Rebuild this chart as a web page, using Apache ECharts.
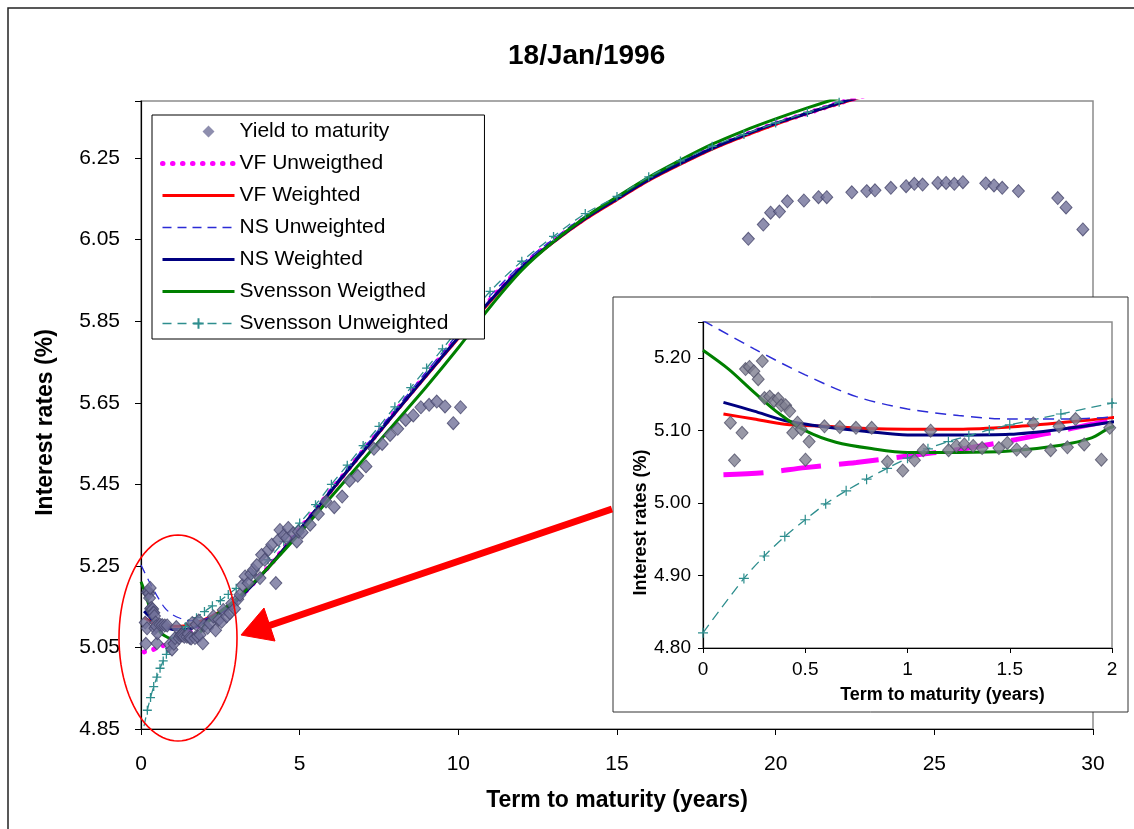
<!DOCTYPE html>
<html><head><meta charset="utf-8">
<script src="https://cdn.jsdelivr.net/npm/echarts@6/dist/echarts.min.js"></script>
<style>html,body{margin:0;padding:0;background:#fff;}#c{width:1134px;height:829px;}</style>
</head><body><div id="c"></div>
<script>
// ---------- DATA ----------
const chartTitle = '18/Jan/1996';
const xTitle = 'Term to maturity (years)';
const yTitle = 'Interest rates (%)';

// Yield to maturity observations
const termYTM = [0.134,0.154,0.191,0.208,0.227,0.249,0.270,0.290,0.301,0.326,0.347,0.368,0.383,0.404,0.424,0.439,0.462,0.480,0.501,0.519,0.594,0.669,0.748,0.825,0.902,0.977,1.034,1.077,1.113,1.201,1.239,1.278,1.321,1.365,1.447,1.488,1.534,1.578,1.615,1.700,1.741,1.782,1.822,1.864,1.948,1.989,
  2.10,2.17,2.28,2.35,2.45,2.54,2.59,2.70,2.80,2.86,2.95,3.05,3.12,3.20,3.28,3.38,3.46,3.54,3.65,3.75,3.80,3.90,4.01,4.12,4.25,4.33,4.38,4.50,4.59,4.64,4.80,4.91,4.96,5.08,5.33,5.59,5.83,6.09,6.34,6.57,6.83,7.09,7.34,7.60,7.85,8.09,8.34,8.58,8.82,9.08,9.32,9.58,9.84,10.07,
  19.14,19.61,19.84,20.12,20.37,20.89,21.35,21.61,22.40,22.87,23.13,23.63,24.11,24.37,24.63,25.11,25.37,25.63,25.90,26.62,26.88,27.14,27.65,28.89,29.15,29.68];
const rateYTM = [5.111,5.059,5.097,5.185,5.188,5.182,5.171,5.196,5.145,5.147,5.141,5.144,5.135,5.135,5.127,5.097,5.111,5.102,5.060,5.085,5.106,5.105,5.104,5.104,5.057,5.045,5.059,5.073,5.100,5.073,5.079,5.081,5.079,5.076,5.076,5.083,5.074,5.072,5.110,5.073,5.106,5.077,5.116,5.081,5.060,5.104,
  5.098,5.109,5.126,5.092,5.118,5.113,5.142,5.126,5.134,5.158,5.145,5.168,5.179,5.203,5.224,5.208,5.230,5.240,5.252,5.220,5.277,5.265,5.289,5.302,5.208,5.314,5.338,5.325,5.318,5.343,5.330,5.310,5.334,5.332,5.351,5.377,5.408,5.394,5.420,5.459,5.471,5.494,5.537,5.549,5.571,5.586,5.608,5.619,5.639,5.645,5.653,5.641,5.600,5.639,
  6.052,6.087,6.116,6.119,6.144,6.146,6.154,6.154,6.166,6.169,6.171,6.177,6.181,6.187,6.185,6.189,6.189,6.187,6.191,6.188,6.183,6.177,6.169,6.152,6.129,6.075];

// VF Unweigthed
const termVFU = [0.1,0.3,0.5,0.75,1,1.25,1.5,1.75,2,2.5,3,4,5,6,7,8,9,10,11,12,13,14,15,16,17,18,19,20,21,22,23];
const rateVFU = [5.039,5.042,5.049,5.056,5.065,5.074,5.086,5.100,5.114,5.137,5.165,5.246,5.340,5.436,5.532,5.627,5.720,5.812,5.902,5.984,6.047,6.103,6.151,6.198,6.238,6.275,6.306,6.335,6.360,6.385,6.407];
// VF Weighted
const termVFW = [0.1,0.25,0.4,0.6,0.8,1,1.25,1.5,1.75,2,2.5,3,4,5,6,7,8,9,10,11,12,13,14,15,16,17,18,19,20,21,22,23];
const rateVFW = [5.123,5.116,5.109,5.106,5.103,5.102,5.102,5.105,5.111,5.118,5.138,5.165,5.245,5.338,5.434,5.530,5.624,5.717,5.808,5.898,5.980,6.044,6.100,6.148,6.195,6.235,6.272,6.304,6.333,6.360,6.384,6.406];
// NS Unweighted
const termNSU = [0,0.25,0.5,0.75,1,1.25,1.5,1.75,2,2.5,3,4,5,6,7,8,9,10,11,12,13,14,15,16,17,18,19,20,21,22,23];
const rateNSU = [5.252,5.213,5.177,5.147,5.130,5.121,5.116,5.116,5.119,5.135,5.162,5.245,5.340,5.440,5.537,5.632,5.727,5.820,5.912,5.990,6.052,6.108,6.153,6.200,6.240,6.276,6.306,6.334,6.360,6.385,6.408];
// NS Weighted
const termNSW = [0.1,0.25,0.4,0.6,0.8,1,1.25,1.5,1.75,2,2.5,3,4,5,6,7,8,9,10,11,12,13,14,15,16,17,18,19,20,21,22,23];
const rateNSW = [5.139,5.127,5.114,5.105,5.099,5.094,5.094,5.095,5.102,5.112,5.135,5.163,5.245,5.338,5.435,5.530,5.625,5.718,5.810,5.900,5.982,6.045,6.102,6.150,6.197,6.237,6.274,6.306,6.335,6.360,6.385,6.407];
// Svensson Weigthed
const termSVW = [0,0.125,0.25,0.375,0.5,0.65,0.83,1,1.25,1.5,1.75,1.9,2,2.5,3,4,5,6,7,8,9,10,11,12,13,14,15,16,17,18,19,20,21,22,23];
const rateSVW = [5.211,5.185,5.153,5.123,5.100,5.084,5.075,5.070,5.070,5.072,5.080,5.090,5.105,5.138,5.168,5.245,5.330,5.420,5.510,5.600,5.690,5.785,5.885,5.975,6.045,6.105,6.155,6.203,6.245,6.284,6.317,6.346,6.373,6.398,6.420];
// Svensson Unweighted
const termSVU = [0,0.2,0.3,0.4,0.5,0.6,0.7,0.8,0.9,1.0,1.1,1.2,1.3,1.4,1.5,1.75,2,2.25,2.5,2.75,3,3.5,4,4.5,5,5.5,6,6.5,7,7.5,8,8.5,9,9.5,10,11,12,13,14,15,16,17,18,19,20,21,22,23];
const rateSVU = [4.821,4.896,4.927,4.954,4.977,4.999,5.017,5.033,5.048,5.062,5.075,5.085,5.093,5.101,5.108,5.123,5.138,5.152,5.165,5.180,5.195,5.228,5.265,5.310,5.355,5.400,5.450,5.497,5.545,5.592,5.640,5.687,5.735,5.782,5.830,5.923,5.997,6.058,6.114,6.156,6.204,6.243,6.279,6.308,6.336,6.362,6.387,6.410];

const legendNames = ['Yield to maturity','VF Unweigthed','VF Weighted','NS Unweighted','NS Weighted','Svensson Weigthed','Svensson Unweighted'];

// ---------- CHART ----------
const FONT = '"Liberation Sans", Arial, Helvetica, sans-serif';
function pairs(xs, ys){ return xs.map((x,i)=>[x, ys[i]]); }
const PLUS = 'path://M5,0L5,10M0,5L10,5';
// legend diamond placed inside a wide icon box (tiny corner specks fix the box size)
const LEGEND_DIAMOND = 'path://M0,0L0.01,0L0,0.01Z M72,13L71.99,13L72,12.99Z M46,0.5L52,6.5L46,12.5L40,6.5Z';

const curves = [
  {name:'VF Unweigthed', d:pairs(termVFU,rateVFU), color:'#FF00FF',
    main:{width:5,type:[0.5,9.5],cap:'round'}, inset:{width:5,type:[40,18]}},
  {name:'VF Weighted', d:pairs(termVFW,rateVFW), color:'#FF0000',
    main:{width:3,type:'solid'}, inset:{width:3,type:'solid'}},
  {name:'NS Unweighted', d:pairs(termNSU,rateNSU), color:'#2B2BD6',
    main:{width:1.3,type:[9,6]}, inset:{width:1.5,type:[11,7]}},
  {name:'NS Weighted', d:pairs(termNSW,rateNSW), color:'#000080',
    main:{width:3,type:'solid'}, inset:{width:3,type:'solid'}},
  {name:'Svensson Weigthed', d:pairs(termSVW,rateSVW), color:'#008000',
    main:{width:3,type:'solid'}, inset:{width:3,type:'solid'}},
  {name:'Svensson Unweighted', d:pairs(termSVU,rateSVU), color:'#2E8E8E',
    main:{width:1.3,type:[9,6]}, inset:{width:1.3,type:[10,6]}, plus:true}
];

const ytm = pairs(termYTM, rateYTM);
const diamondStyle = {color:'#72729A', borderColor:'#46466C', borderWidth:1};

const series = [];
series.push({name:'Yield to maturity', type:'scatter', xAxisIndex:0, yAxisIndex:0, data:ytm,
  symbol:'diamond', symbolSize:[12,13], itemStyle:diamondStyle, z:4, clip:true});
curves.forEach(c=>{
  series.push({name:c.name, type:'line', xAxisIndex:0, yAxisIndex:0, data:c.d, smooth:0.3,
    color:c.color, lineStyle:Object.assign({color:c.color}, c.main),
    symbol: c.plus ? PLUS : 'none', showSymbol: !!c.plus, symbolSize:9,
    itemStyle:{color:c.color, borderColor:c.color, borderWidth:1.3}, z:3, clip:true});
});
curves.forEach(c=>{
  series.push({name:c.name, type:'line', xAxisIndex:1, yAxisIndex:1, data:c.d, smooth:0.3,
    color:c.color, lineStyle:Object.assign({color:c.color}, c.inset),
    symbol: c.plus ? PLUS : 'none', showSymbol: !!c.plus, symbolSize:10,
    itemStyle:{color:c.color, borderColor:c.color, borderWidth:1.2}, z:22, clip:true});
});
series.push({name:'Yield to maturity', type:'scatter', xAxisIndex:1, yAxisIndex:1, data:ytm,
  symbol:'diamond', symbolSize:[12,13], itemStyle:{color:'#7E7E90', borderColor:'#52526A', borderWidth:1}, z:23, clip:true});

// legend entries: hide the marker on plain lines, keep the plus on Svensson Unweighted
const legendData = legendNames.map(n=>{
  if (n === 'Yield to maturity') return {name:n, icon:LEGEND_DIAMOND, itemStyle:{color:'#72729A', borderWidth:0}};
  const c = curves.find(k=>k.name===n);
  const item = {name:n, lineStyle:Object.assign({color:c.color}, c.main)};
  if (!c.plus) item.itemStyle = {opacity:0};
  return item;
});

// ellipse annotation points
const ell = [];
for (let i=0;i<96;i++){ const a = i/96*Math.PI*2; ell.push([178+59*Math.cos(a), 638+103*Math.sin(a)]); }

const option = {
  animation:false,
  backgroundColor:'#ffffff',
  textStyle:{fontFamily:FONT},
  title:{text:chartTitle, left:503, top:37, textStyle:{fontFamily:FONT, fontSize:28, fontWeight:'bold', color:'#000'}},
  legend:{
    data:legendData, left:152, top:115, orient:'vertical',
    backgroundColor:'#fff', borderColor:'#000', borderWidth:1,
    padding:[6,36,5,8], itemGap:11, itemWidth:72, itemHeight:13,
    textStyle:{fontFamily:FONT, fontSize:21, color:'#000', lineHeight:21},
    z:30
  },
  grid:[
    {left:141, top:101, right:41, bottom:100, show:true, borderColor:'#8C8C8C', borderWidth:1.5, backgroundColor:'transparent'},
    {left:703, top:322, right:22, bottom:181, show:true, borderColor:'#8C8C8C', borderWidth:1.5, backgroundColor:'transparent', z:21}
  ],
  xAxis:[
    {type:'value', gridIndex:0, min:0, max:30, interval:5,
      name:xTitle, nameLocation:'middle', nameGap:60,
      nameTextStyle:{fontFamily:FONT, fontSize:23, fontWeight:'bold', color:'#000'},
      axisLine:{show:true, onZero:false, lineStyle:{color:'#000', width:1.2}},
      axisTick:{show:true, inside:false, length:6, lineStyle:{color:'#000'}},
      axisLabel:{fontFamily:FONT, fontSize:21, color:'#000', margin:25},
      splitLine:{show:false}},
    {type:'value', gridIndex:1, min:0, max:2, interval:0.5,
      name:xTitle, nameLocation:'middle', nameGap:38,
      nameTextStyle:{fontFamily:FONT, fontSize:18, fontWeight:'bold', color:'#000', padding:[0,0,0,70]},
      axisLine:{show:true, onZero:false, lineStyle:{color:'#000', width:1.2}},
      axisTick:{show:true, inside:false, length:5, lineStyle:{color:'#000'}},
      axisLabel:{fontFamily:FONT, fontSize:19, color:'#000', margin:12},
      splitLine:{show:false}, z:21}
  ],
  yAxis:[
    {type:'value', gridIndex:0, min:4.85, max:6.39, interval:0.2,
      name:yTitle, nameLocation:'middle', nameGap:84, nameRotate:90,
      nameTextStyle:{fontFamily:FONT, fontSize:23, fontWeight:'bold', color:'#000', padding:[0,15,0,0]},
      axisLine:{show:true, onZero:false, lineStyle:{color:'#000', width:1.2}},
      axisTick:{show:true, inside:false, length:6, lineStyle:{color:'#000'}},
      axisLabel:{fontFamily:FONT, fontSize:21, color:'#000', margin:21,
        formatter:v=>{const k=(v-4.85)/0.2; return Math.abs(k-Math.round(k))<1e-6 ? v.toFixed(2) : '';}},
      splitLine:{show:false}},
    {type:'value', gridIndex:1, min:4.8, max:5.25, interval:0.1,
      name:yTitle, nameLocation:'middle', nameGap:52, nameRotate:90,
      nameTextStyle:{fontFamily:FONT, fontSize:18, fontWeight:'bold', color:'#000', padding:[0,75,0,0]},
      axisLine:{show:true, onZero:false, lineStyle:{color:'#000', width:1.2}},
      axisTick:{show:true, inside:false, length:5, lineStyle:{color:'#000'}},
      axisLabel:{fontFamily:FONT, fontSize:19, color:'#000', margin:12,
        formatter:v=>{const k=v*10; return Math.abs(k-Math.round(k))<1e-6 ? v.toFixed(2) : '';}},
      splitLine:{show:false}, z:21}
  ],
  graphic:[
    {type:'rect', shape:{x:8, y:8, width:1140, height:840}, style:{fill:'none', stroke:'#222', lineWidth:1.5}, z:0, silent:true},
    {type:'rect', shape:{x:613, y:297, width:515, height:415}, style:{fill:'#fff', stroke:'#333', lineWidth:1}, z:10, silent:true},
    {type:'polygon', shape:{points:ell}, style:{fill:'none', stroke:'#FF0000', lineWidth:1.6}, z:40, silent:true},
    {type:'line', shape:{x1:612, y1:509, x2:268, y2:626}, style:{stroke:'#FF0000', lineWidth:7}, z:40, silent:true},
    {type:'polygon', shape:{points:[[241,635],[275,641],[264,608]]}, style:{fill:'#FF0000', stroke:'#FF0000', lineWidth:1}, z:40, silent:true}
  ],
  series:series
};

const chart = echarts.init(document.getElementById('c'), null, {renderer:'canvas'});
chart.setOption(option);
</script></body></html>
